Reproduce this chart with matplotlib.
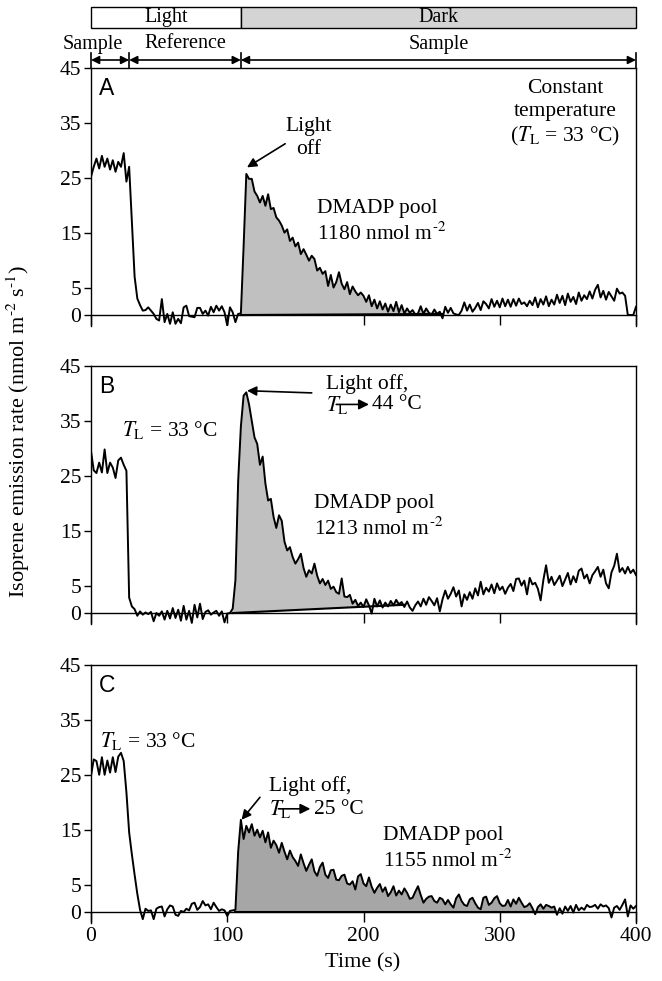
import numpy as np
import matplotlib.pyplot as plt
from matplotlib.patches import Rectangle

plt.rcParams['font.family'] = ['Liberation Serif', 'DejaVu Serif']
plt.rcParams['mathtext.fontset'] = 'stix'
plt.rcParams['font.size'] = 15.5

# time axis (s), one reading every 2 s
t = np.arange(0, 401, 2)

rate_a = [25.2, 27, 28.5, 26.7, 29, 27, 28.5, 26.5, 28.2, 26.1,
          27.9, 27, 29.5, 24.3, 27, 17, 7, 3, 1.8, 0.8,
          0.9, 1.4, 0.8, 0.2, -0.7, -1, 2.9, -1.3, 0.2, -1.6,
          0.5, -1.6, -0.7, -1.5, 1.4, 1.7, -0.2, -0.3, -0.4, 1.3,
          1.3, 0.2, 0.8, -0.1, 1.5, 0.5, 1.7, 0.8, 1.6, 0.5,
          -1.9, 1.4, 0.5, -1.3, 0.2, 0.3, 12.5, 25.7, 24.8, 24.8,
          22.5, 21.7, 20.5, 21.7, 19.9, 22, 19.3, 19.5, 17.8, 17.2,
          16.3, 15, 15.6, 13.5, 14.1, 12.5, 13.2, 11.1, 12, 11,
          9.9, 10.8, 10.2, 8.1, 8.6, 7.5, 8, 5.3, 7.3, 5,
          6, 7.8, 5.7, 4.7, 6, 3.8, 5.2, 4.3, 3.6, 4.1,
          3.5, 2.4, 3.6, 1.6, 2.8, 1.2, 2.5, 1.0, 2.1, 0.6,
          1.9, 0.7, 2.4, 0.5, 1.8, 0.3, 1.2, 0.4, 0.9, 0.1,
          0.3, 1.6, 0.2, 1.2, 0.4, 0.1, 1.0, 0.2, 0.6, -0.6,
          1.5, 0.4, 1.3, 0.3, 0.1, 0.0, 0.8, 2.3, 0.8, 1.9,
          0.6, 1.3, 2.2, 0.9, 2.5, 2.0, 1.2, 2.9, 1.5, 2.6,
          1.4, 3.0, 1.6, 2.8, 1.5, 2.9, 1.7, 3.0, 2.0, 2.3,
          1.6, 2.6, 1.8, 3.2, 1.4, 2.9, 1.9, 3.4, 1.6, 2.8,
          1.9, 3.7, 2.2, 3.5, 1.8, 3.9, 2.4, 3.3, 2.0, 4.1,
          2.6, 3.6, 2.9, 4.3, 3.0, 4.6, 5.5, 3.2, 4.4, 2.8,
          4.2, 3.4, 2.6, 4.8, 3.9, 4.1, 3.5, 0, 0, 0,
          1.5]

rate_b = [29.5, 26, 25.5, 27.4, 25.6, 29.8, 25.5, 27.4, 26.5, 24.6,
          27.8, 28.3, 27, 25.9, 2.8, 1.2, 0.7, -0.5, 0.3, -0.3,
          0.1, -0.2, 0.2, -1.5, 0.0, -0.5, 0.3, -1.2, 0.4, -1.0,
          0.9, -0.9, 0.6, -1.4, 1.3, -1.2, 0.4, -1.8, 1.5, -0.8,
          1.7, -1.1, 0.2, 0.5, -0.3, 0.1, 0.4, -0.5, 0.3, -1.7,
          -0.1, 0.0, 0.8, 6, 24, 34, 39.6, 40.2, 38, 35,
          32, 30.8, 27, 28.5, 23.6, 20.5, 20.8, 17.5, 15.5, 17.8,
          16.8, 13, 11.4, 12, 10.2, 9, 9.8, 10.8, 8.2, 6.6,
          7.8, 7.2, 9, 6.8, 5.4, 6.2, 5.1, 5.9, 4.4, 4.8,
          3.8, 3.5, 6.3, 3.0, 2.9, 3.3, 1.7, 2.4, 1.3, 1.9,
          1.1, 2.5, 1.4, -0.1, 2.6, 1.2, 2.3, 1.0, 1.9, 1.2,
          2.2, 1.4, 2.4, 1.6, 2.0, 1.1, 2.1, 1.0, 0.4, 1.4,
          2.1, 1.2, 2.6, 1.5, 2.9, 2.2, 1.4, 2.7, 0.3, 2.5,
          4.1, 2.6, 3.5, 4.7, 3.0, 4.1, 1.2, 3.4, 2.4, 3.8,
          2.6, 4.5, 3.2, 5.7, 3.4, 4.6, 3.9, 5.2, 3.6, 5.4,
          4.2, 4.8, 3.5, 4.6, 5.3, 4.0, 6.2, 6.3, 5.0, 5.9,
          3.4, 6.4, 5.2, 5.5, 4.4, 2.3, 6.0, 8.7, 5.5, 6.6,
          5.1, 5.9, 6.8, 4.9, 6.1, 7.3, 5.2, 6.7, 5.6, 7.7,
          8.1, 6.3, 7.0, 5.4, 6.9, 7.6, 8.4, 6.6, 7.9, 5.4,
          4.5, 7.4, 8.6, 10.8, 7.5, 8.2, 7.2, 8.4, 7.3, 7.9,
          6.9]

rate_c = [24.8, 27.8, 27.5, 25, 28.2, 25, 27.6, 25.4, 28.2, 25.5,
          28.3, 29, 27.5, 21.8, 14.5, 10.5, 6.8, 3.3, 0.4, -1.3,
          0.6, 0.2, 0.3, -1.3, 0.6, 0.9, 1.0, -0.8, 0.5, 1.2,
          1.0, -0.5, -0.7, 0.2, 0.0, 0.6, 0.3, 1.5, 1.7, 0.4,
          0.9, 2.0, 1.2, 1.4, 0.5, 1.7, 0.9, 0.2, 0.5, 0.3,
          -0.7, 0.2, 0.3, 0.4, 11, 16.8, 13.3, 15.7, 14.5, 16,
          13.9, 15, 13.6, 14.8, 12.7, 14.5, 11.7, 13, 12.2, 10.8,
          12.6, 11, 9.6, 11.2, 10, 9.3, 8.4, 10.5, 8.9, 7.5,
          8.6, 9.6, 7.4, 6.6, 8.2, 9, 6.8, 6.2, 7.6, 7.7,
          5.9, 5.8, 6.6, 6.8, 5.2, 5, 5.6, 4.1, 6.5, 6.9,
          5.2, 4.7, 6.3, 4.6, 3.5, 4.4, 5.1, 3.7, 4.5, 2.9,
          3.6, 4.7, 3.0, 3.9, 3.2, 4.3, 3.5, 2.4, 2.6, 3.7,
          4.7, 3.1, 1.7, 2.4, 2.8, 2.9, 2.0, 1.7, 2.6, 2.3,
          1.4, 2.2, 1.4, 0.8, 2.5, 3.2, 2.0, 1.3, 1.1, 2.3,
          2.6, 1.6, 0.8, 0.5, 2.6, 2.8, 1.3, 1.7, 2.5, 2.9,
          1.6, 1.1, 1.2, 2.2, 1.0, 2.3, 1.5, 2.6, 1.7, 0.9,
          1.1, 1.6, 0.7, -0.4, 0.9, 1.4, 0.6, 1.3, 1.1, 0.8,
          1.0, -0.5, 0.7, -0.3, 1.0, 0.2, 1.1, -0.1, 1.3, 0.3,
          0.8, 0.4, 1.3, 0.9, 1.0, 1.3, 0.6, 1.4, 1.0, 1.2,
          0.7, -1.0, 0.8, 1.1, 0.4, 1.3, 2.3, -0.8, 1.2, 0.6,
          1.1]

# integration baselines: (t start, value, t end, value)
base_a = (110, 0.0, 258, 0.2)
base_b = (104, 0.0, 230, 1.5)
base_c = (106, 0.0, 340, 0.0)

pools = ['1180', '1213', '1155']
letters = ['A', 'B', 'C']
light_edges = [0, 110, 400]
light_names = ['Light', 'Dark']
phase_edges = [0, 28, 110, 400]
phase_names = ['Sample', 'Reference', 'Sample']
yticks = [0, 5, 15, 25, 35, 45]

M2 = r'$^{\text{-2}}$'
TL = r'$T_{\mathrm{L}}$'

fig = plt.figure(figsize=(6.62, 9.81), dpi=100)
L, W = 91 / 662, 545 / 662
H = 258 / 981
bottoms = [1 - 326 / 981, 1 - 624 / 981, 1 - 923 / 981]

rates = [rate_a, rate_b, rate_c]
bases = [base_a, base_b, base_c]
fills = ['#c0c0c0', '#c0c0c0', '#a6a6a6']
axes = []
for i in range(3):
    ax = fig.add_axes([L, bottoms[i], W, H])
    y = np.array(rates[i])
    t0, v0, t1, v1 = bases[i]
    base = np.interp(t, [t0, t1], [v0, v1])
    inside = (t >= t0) & (t <= t1)
    ax.fill_between(t, y, base, where=inside & (y >= base), interpolate=True,
                    color=fills[i], lw=0)
    ax.plot(t, y, color='k', lw=1.4)
    ax.plot([t0, t1], [v0, v1], color='k', lw=1.5)
    ax.set_xlim(0, 400)
    ax.set_ylim(-2, 45)
    ax.set_yticks(yticks)
    ax.set_xticks([0, 100, 200, 300, 400])
    ax.spines['bottom'].set_position(('data', 0))
    for s in ax.spines.values():
        s.set_linewidth(1.0)
    ax.tick_params(axis='y', direction='out', length=5, width=1, pad=2)
    ax.tick_params(axis='x', direction='out', length=7, width=1, pad=4)
    if i < 2:
        ax.set_xticklabels([])
    ax.text(6, 41.3, letters[i], family='Liberation Sans', fontsize=16.5,
            va='center', ha='left')
    axes.append(ax)

ax_a, ax_b, ax_c = axes
head = dict(arrowstyle='-|>', color='k', lw=1.2, mutation_scale=14,
            shrinkA=0, shrinkB=0)
small = dict(arrowstyle='-|>', color='k', lw=1.2, mutation_scale=15,
             shrinkA=0, shrinkB=0)

# panel A notes
ax_a.text(160, 34.3, 'Light', ha='center', va='center')
ax_a.text(160, 30.2, 'off', ha='center', va='center')
ax_a.annotate('', xy=(114.5, 26.9), xytext=(142.5, 31.2), arrowprops=head)
ax_a.text(166, 19.4, 'DMADP pool', ha='left', va='center')
ax_a.text(166, 14.8, pools[0] + ' nmol m' + M2, ha='left', va='center')
ax_a.text(348, 41.3, 'Constant', ha='center', va='center')
ax_a.text(348, 37.0, 'temperature', ha='center', va='center')
ax_a.text(348, 32.6, '(' + TL + ' = 33 °C)', ha='center', va='center')

# panel B notes
ax_b.text(22.5, 33.3, TL + ' = 33 °C', ha='left', va='center')
ax_b.text(172.5, 41.8, 'Light off,', ha='left', va='center')
ax_b.text(172.5, 37.9, TL, ha='left', va='center')
ax_b.annotate('', xy=(204, 38.0), xytext=(180, 38.0), arrowprops=small)
ax_b.text(206, 37.9, '44 °C', ha='left', va='center')
ax_b.annotate('', xy=(114.5, 40.5), xytext=(162, 40.1), arrowprops=head)
ax_b.text(163.5, 20.0, 'DMADP pool', ha='left', va='center')
ax_b.text(163.5, 15.4, pools[1] + ' nmol m' + M2, ha='left', va='center')

# panel C notes
ax_c.text(6.5, 31.2, TL + ' = 33 °C', ha='left', va='center')
ax_c.text(130.5, 23.0, 'Light off,', ha='left', va='center')
ax_c.text(130.5, 18.7, TL, ha='left', va='center')
ax_c.annotate('', xy=(161, 18.8), xytext=(137.5, 18.8), arrowprops=small)
ax_c.text(163.5, 18.7, '25 °C', ha='left', va='center')
ax_c.annotate('', xy=(110.5, 16.8), xytext=(124, 20.9), arrowprops=head)
ax_c.text(214, 13.9, 'DMADP pool', ha='left', va='center')
ax_c.text(214, 9.3, pools[2] + ' nmol m' + M2, ha='left', va='center')

# header: light/dark bar and sampling phases (y in pixels from top)
hax = fig.add_axes([L, 1 - 68 / 981, W, 68 / 981])
hax.set_xlim(0, 400)
hax.set_ylim(68, 0)
hax.axis('off')
colors = ['white', '#d4d4d4']
for k in range(2):
    a, b = light_edges[k], light_edges[k + 1]
    hax.add_patch(Rectangle((a, 7), b - a, 21, facecolor=colors[k],
                            edgecolor='k', lw=1.0, clip_on=False))
    hax.text((a + b) / 2, 17.5, light_names[k], ha='center', va='center',
             fontsize=14.5)
phase_x = [1.5, 69, 255]
for k in range(3):
    a, b = phase_edges[k], phase_edges[k + 1]
    hax.annotate('', xy=(a, 60), xytext=(b, 60), annotation_clip=False,
                 arrowprops=dict(arrowstyle='<|-|>', color='k', lw=1.2,
                                 mutation_scale=12, shrinkA=0, shrinkB=0))
    hax.text(phase_x[k], 44, phase_names[k], ha='center', va='center',
             fontsize=14.5)
for e in phase_edges:
    hax.plot([e, e], [53, 68], color='k', lw=1.2, clip_on=False)

fig.text(18 / 662, 1 - 431 / 981,
         'Isoprene emission rate (nmol m' + M2 + ' s$^{\\text{-1}}$)',
         rotation=90, ha='center', va='center', fontsize=16)
fig.text(363 / 662, 1 - 963 / 981, 'Time (s)', ha='center', va='center',
         fontsize=16)

fig.savefig('out.png', dpi=100)
